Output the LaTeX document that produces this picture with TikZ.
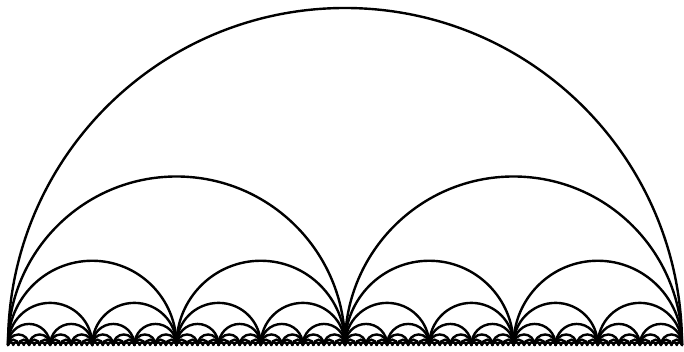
\documentclass[tikz,border=0pt]{standalone}
\usepackage{tikz}
\tikzset{
  halfdisc/.style={draw=black,line width=2.4pt,line cap=round},
}
\begin{document}
\begin{tikzpicture}[x=1pt,y=1pt]
  \useasboundingbox (0,0) rectangle (684,352);
  % nested semicircles, radius halves at each level
  \foreach \lev in {0,...,7}{
    \pgfmathsetmacro\rad{337/2^\lev}
    \pgfmathtruncatemacro\last{2^\lev-1}
    \foreach \k in {0,...,\last}{
      \draw[halfdisc] ({8+2*\rad*\k},7) arc[start angle=180,end angle=0,radius=\rad];
    }
  }
\end{tikzpicture}
\end{document}
